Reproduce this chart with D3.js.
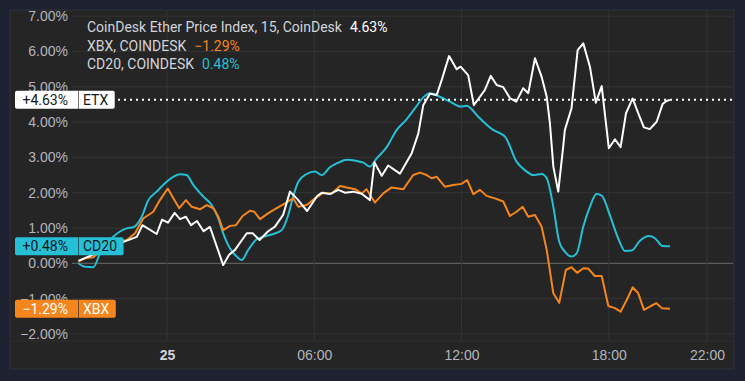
<!DOCTYPE html>
<html><head><meta charset="utf-8">
<script src="https://cdn.jsdelivr.net/npm/d3@7"></script>
<style>
html,body{margin:0;padding:0;background:#1d2130;}
svg{display:block;font-family:Roboto,"Noto Sans",sans-serif;}
</style>
</head><body>
<svg id="chart" width="745" height="381"></svg>
<script>
// ---- data (hours relative to 00:00 on the 25th, % change) ----
const etxHours = [-3.61,-2.73,-1.91,-1.23,-1.0,-0.42,-0.2,0.04,0.31,0.53,0.77,0.98,1.22,1.49,1.75,2.29,2.53,2.77,3.25,3.49,3.77,4.11,4.4,4.73,5.01,5.32,5.71,6.11,6.3,6.64,6.98,7.25,7.59,7.93,8.27,8.45,8.75,9.01,9.49,9.97,10.24,10.44,10.71,10.99,11.19,11.49,11.8,11.96,12.27,12.5,12.95,13.19,13.43,13.7,13.97,14.23,14.51,14.72,14.99,15.26,15.47,15.6,15.74,15.94,16.14,16.21,16.48,16.73,16.96,17.23,17.47,17.71,18.0,18.25,18.48,18.7,18.97,19.2,19.43,19.67,19.95,20.19,20.35,20.49];
const etxValues = [0.07,0.33,0.57,0.75,1.08,0.83,1.24,1.15,1.43,1.25,1.32,1.08,1.2,0.91,1.03,-0.05,0.24,0.38,0.85,0.85,0.66,0.9,1.04,1.37,2.03,1.81,1.48,1.9,2.0,1.96,2.08,2.0,2.03,1.97,1.79,2.86,2.48,2.77,2.54,3.12,3.68,4.48,4.8,4.77,5.19,5.87,5.5,5.57,5.33,4.48,4.91,5.31,5.05,4.99,4.68,4.58,4.96,4.82,5.81,5.29,4.72,3.97,2.74,2.03,3.3,3.78,4.39,6.04,6.23,5.57,4.55,5.02,3.26,3.51,3.29,4.25,4.67,4.25,3.85,3.8,4.01,4.51,4.6,4.63];

const xbxHours = [-3.61,-3.34,-3.0,-2.73,-2.32,-1.98,-1.64,-1.3,-0.97,-0.56,-0.29,0.03,0.26,0.5,0.77,1.01,1.34,1.62,1.89,2.09,2.29,2.57,2.81,3.08,3.38,3.56,3.79,4.13,4.47,4.81,5.14,5.35,5.69,6.03,6.37,6.71,7.05,7.32,7.66,7.93,8.13,8.47,8.81,9.15,9.63,10.03,10.31,10.58,10.78,10.99,11.32,11.66,12.0,12.23,12.48,12.75,13.02,13.36,13.7,13.97,14.24,14.49,14.72,14.99,15.26,15.47,15.74,15.98,16.25,16.48,16.71,16.96,17.16,17.43,17.71,17.98,18.25,18.48,18.73,18.97,19.2,19.43,19.71,19.94,20.16,20.49];
const xbxValues = [0.05,0.14,0.17,0.33,0.45,0.61,0.66,0.85,1.27,1.46,1.79,2.12,1.84,1.56,1.79,1.6,1.53,1.65,1.56,1.32,0.94,1.06,1.08,1.34,1.49,1.46,1.25,1.42,1.56,1.7,1.84,1.6,1.65,1.84,2.0,1.98,2.19,2.15,2.1,1.98,2.1,1.72,1.98,2.15,2.1,2.5,2.57,2.5,2.41,2.45,2.17,2.22,2.25,2.36,1.96,2.08,1.91,1.84,1.75,1.34,1.46,1.6,1.32,1.37,1.04,0.38,-0.85,-1.12,-0.19,-0.11,-0.27,-0.14,-0.15,-0.36,-0.36,-1.21,-1.27,-1.37,-1.04,-0.68,-0.85,-1.32,-1.21,-1.13,-1.27,-1.29];

const cd20Hours = [-3.61,-3.34,-3.0,-2.73,-2.19,-1.64,-1.37,-1.03,-0.76,-0.42,-0.08,0.26,0.53,0.8,1.07,1.48,1.82,2.09,2.29,2.57,2.84,3.04,3.31,3.65,3.92,4.33,4.67,4.94,5.14,5.35,5.69,6.03,6.3,6.64,6.98,7.32,7.66,8.0,8.27,8.54,8.95,9.36,9.76,10.1,10.44,10.71,11.05,11.53,11.96,12.21,12.68,13.29,13.63,13.77,14.24,14.58,14.92,15.26,15.47,15.74,15.98,16.21,16.48,16.69,16.96,17.23,17.5,17.71,18.04,18.38,18.66,18.93,19.27,19.65,19.88,20.19,20.49];
const cd20Values = [0.0,-0.1,-0.11,0.28,0.75,0.99,1.02,1.32,1.79,2.03,2.27,2.45,2.52,2.5,2.22,1.89,1.65,1.27,0.85,0.42,0.19,0.09,0.38,0.68,0.75,0.83,0.94,1.37,1.89,2.31,2.53,2.6,2.5,2.72,2.85,2.93,2.91,2.85,2.74,2.97,3.29,3.78,4.08,4.39,4.7,4.82,4.74,4.58,4.44,4.46,4.15,3.78,3.66,3.59,2.88,2.64,2.5,2.53,2.41,1.6,0.61,0.33,0.19,0.28,1.04,1.6,1.96,1.92,1.37,0.71,0.35,0.36,0.64,0.77,0.71,0.49,0.48];

const yTicks = [-2,-1,0,1,2,3,4,5,6,7];
const xTickHours = [0,6,12,18,22];
const legendNames = ["CoinDesk Ether Price Index, 15, CoinDesk","XBX, COINDESK","CD20, COINDESK"];
const legendValues = ["4.63%","\u22121.29%","0.48%"];
const tagNames = ["ETX","CD20","XBX"];
const tagValues = [4.63,0.48,-1.29];
const tagTexts = ["+4.63%","+0.48%","\u22121.29%"];

// ---- styles ----
const C = {white:"#ffffff", orange:"#f5861e", cyan:"#25c0d6"};
const FS = "14px";
const baseDay = new Date(2024,6,25,0,0,0);
const toDate = h => new Date(baseDay.getTime() + h*3600e3);

const svg = d3.select("#chart");
const panel = {x0:10,x1:734,y0:10,y1:369};
const plot = {x0:72,x1:733,y0:10,y1:341};

svg.append("rect").attr("x",panel.x0).attr("y",panel.y0)
  .attr("width",panel.x1-panel.x0).attr("height",panel.y1-panel.y0)
  .attr("fill","#252525").attr("stroke","#2f3238").attr("stroke-width",1);

const x = d3.scaleTime().domain([toDate(0),toDate(22)]).range([167,707]);
const y = d3.scaleLinear().domain([-2,7]).range([333.9,16.2]);

// grid
const g = svg.append("g");
g.selectAll("line.h").data(yTicks).join("line")
  .attr("x1",plot.x0).attr("x2",plot.x1)
  .attr("y1",d=>y(d)).attr("y2",d=>y(d))
  .attr("stroke",d=>d===0?"#6c6c6c":"#343434").attr("stroke-width",1);
g.selectAll("line.v").data(xTickHours).join("line")
  .attr("x1",d=>x(toDate(d))).attr("x2",d=>x(toDate(d)))
  .attr("y1",plot.y0).attr("y2",plot.y1)
  .attr("stroke","#343434").attr("stroke-width",1);
g.append("line").attr("x1",panel.x0).attr("x2",panel.x1).attr("y1",plot.y1).attr("y2",plot.y1)
  .attr("stroke","#2e2e2e");

// axes
const ya = svg.append("g").attr("transform","translate(68,0)")
  .call(d3.axisLeft(y).tickValues(yTicks).tickSize(0).tickPadding(0)
    .tickFormat(d=>d3.format(".2f")(d)+"%"));
ya.select(".domain").remove();
ya.selectAll("text").attr("fill","#b2b5be").style("font-size",FS);

const xa = svg.append("g").attr("transform","translate(0,350)")
  .call(d3.axisBottom(x).tickValues(xTickHours.map(toDate)).tickSize(0).tickPadding(0)
    .tickFormat(d=>d.getHours()===0 ? String(d.getDate()) : d3.timeFormat("%H:%M")(d)));
xa.select(".domain").remove();
xa.selectAll("text").style("font-size",FS)
  .style("font-weight",d=>d.getHours()===0?"bold":"normal")
  .attr("fill",d=>d.getHours()===0?"#d1d4dc":"#b2b5be");

// lines
function series(hours, values){ return hours.map((h,i)=>({t:toDate(h), v:values[i]})); }
const line = d3.line().x(d=>x(d.t)).y(d=>y(d.v));
const lineSmooth = d3.line().x(d=>x(d.t)).y(d=>y(d.v)).curve(d3.curveMonotoneX);

svg.append("path").datum(series(cd20Hours,cd20Values)).attr("d",lineSmooth)
  .attr("fill","none").attr("stroke",C.cyan).attr("stroke-width",2).attr("stroke-linejoin","round");
svg.append("path").datum(series(xbxHours,xbxValues)).attr("d",line)
  .attr("fill","none").attr("stroke",C.orange).attr("stroke-width",2).attr("stroke-linejoin","round");
svg.append("path").datum(series(etxHours,etxValues)).attr("d",line)
  .attr("fill","none").attr("stroke",C.white).attr("stroke-width",2).attr("stroke-linejoin","round");

// dotted price line for ETX
svg.append("line").attr("x1",118).attr("x2",plot.x1)
  .attr("y1",y(tagValues[0])).attr("y2",y(tagValues[0]))
  .attr("stroke","#ffffff").attr("stroke-width",2).attr("stroke-dasharray","2,4");

// legend
const legColors = [C.white,C.orange,C.cyan];
const legBase = [32,50.5,69];
legendNames.forEach((n,i)=>{
  const t = svg.append("text").attr("x",87).attr("y",legBase[i]).style("font-size",FS);
  t.append("tspan").attr("fill","#d1d4dc").text(n);
  t.append("tspan").attr("dx",8).attr("fill",legColors[i]).text(legendValues[i]);
});

// price tags
const tagFill = [C.white,C.cyan,C.orange];
const tagText = ["#131722","#131722","#ffffff"];
tagNames.forEach((n,i)=>{
  const cy = y(tagValues[i]);
  const tg = svg.append("g");
  const rect = tg.append("rect").attr("x",15).attr("y",cy-9).attr("height",18).attr("rx",2)
    .attr("fill",tagFill[i]);
  tg.append("text").attr("x",68).attr("y",cy).attr("dy","0.35em").attr("text-anchor","end")
    .style("font-size",FS).attr("fill",tagText[i]).text(tagTexts[i]);
  const nt = tg.append("text").attr("x",83).attr("y",cy).attr("dy","0.35em")
    .style("font-size",FS).attr("fill",tagText[i]).text(n);
  const w = nt.node().getComputedTextLength();
  rect.attr("width",83+w+6.5-15);
  tg.append("line").attr("x1",78.5).attr("x2",78.5).attr("y1",cy-9).attr("y2",cy+9)
    .attr("stroke","#1e1e1e").attr("stroke-width",1).attr("opacity",0.6);
});
</script>
</body></html>
